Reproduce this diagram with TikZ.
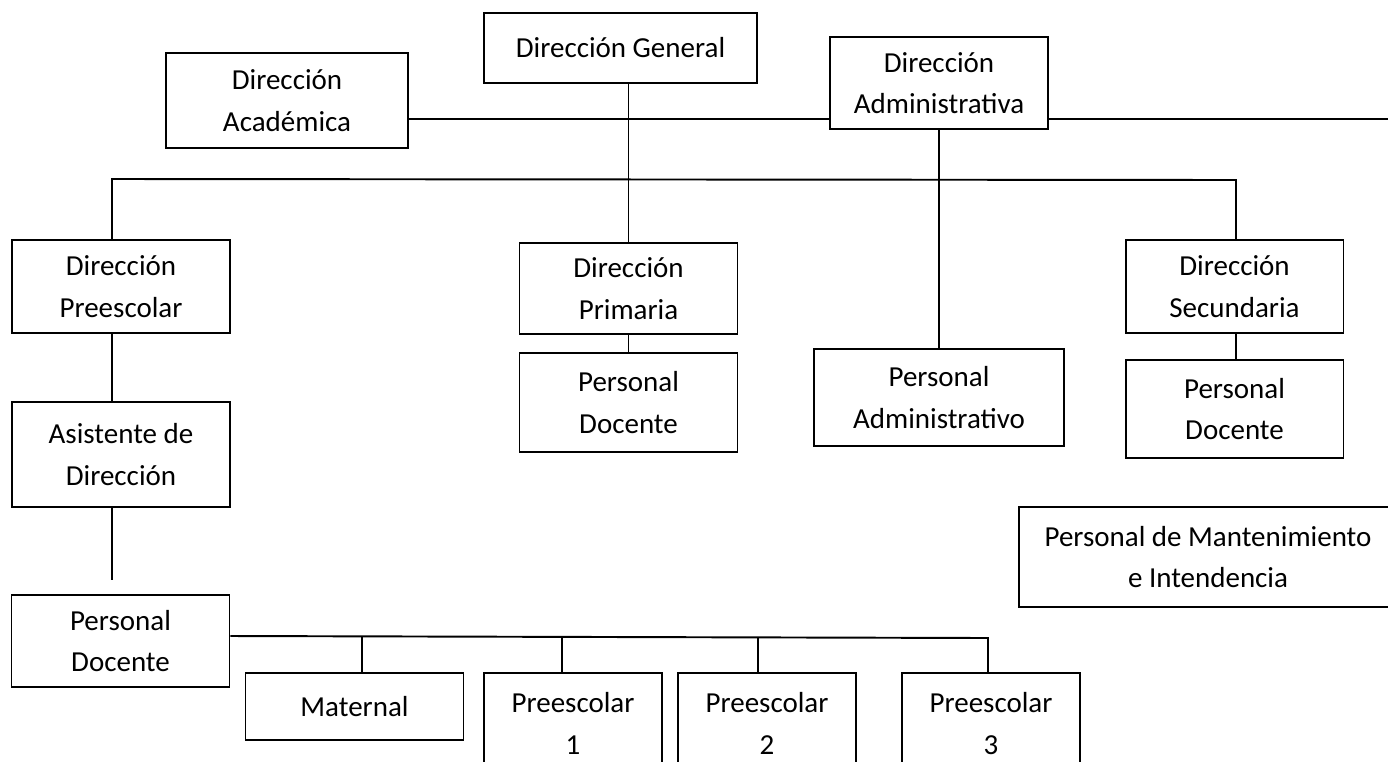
\documentclass[tikz,border=0pt]{standalone}
\usepackage{fontspec}
\setmainfont{Carlito}
\usetikzlibrary{arrows,shapes,calc,positioning}

\begin{document}
\begin{tikzpicture}[x=0.02cm, y=-0.02cm]
		\tikzstyle{every node}=[font=\fontsize{16.5}{23.5}\selectfont]
		\tikzstyle{caja}=[draw, line width=1.1pt, align=center, inner sep=0pt, minimum width=4.36cm, minimum height=1.86cm]
		\clip (0,0) rectangle (1388,761);
		% direccion
		\node [caja, minimum width=5.46cm, minimum height=1.4cm] (dg) at (620.5,48) {Dirección General};
		\node [caja, minimum width=4.84cm, minimum height=1.9cm] (acad) at (287,100.5) {Dirección\\Académica};
		\node [caja, minimum height=1.84cm] (adm) at (939,83) {Dirección\\Administrativa};
		% niveles
		\node [caja] (pre) at (121,286.5) {Dirección\\Preescolar};
		\node [caja, minimum height=1.82cm] (pri) at (628.5,288.5) {Dirección\\Primaria};
		\node [caja] (sec) at (1234.5,286.5) {Dirección\\Secundaria};
		\node [caja, minimum width=5cm, minimum height=1.94cm] (padm) at (939,397.5) {Personal\\Administrativo};
		\node [caja, minimum height=1.98cm] (pdpri) at (628.5,402.5) {Personal\\Docente};
		\node [caja, minimum height=1.96cm] (pdsec) at (1234.5,409) {Personal\\Docente};
		\node [caja, minimum width=7.56cm, minimum height=2cm] (mant) at (1208,557) {Personal de Mantenimiento\\e Intendencia};
		\node [caja, minimum height=2.1cm] (asis) at (121,454.5) {Asistente de\\Dirección};
		\node [caja, minimum height=1.84cm] (pdpre) at (120.5,641) {Personal\\Docente};
		% grupos
		\node [caja, minimum height=1.34cm] (mat) at (354.5,706.5) {Maternal};
		\node [caja, minimum width=3.56cm, minimum height=2.02cm] (p1) at (573,723.5) {Preescolar\\1};
		\node [caja, minimum width=3.56cm, minimum height=2.02cm] (p2) at (767,723.5) {Preescolar\\2};
		\node [caja, minimum width=3.56cm, minimum height=2.02cm] (p3) at (991,723.5) {Preescolar\\3};
		\coordinate (lnA) at (0,119);
		\coordinate (fin) at (1388,119);
		\coordinate (busI) at (112,179);
		\coordinate (busD) at (1236,180);
		\coordinate (gM) at (362,636);
		\coordinate (g1) at (562,637);
		\coordinate (g2) at (758,637);
		\coordinate (g3) at (988,638);
		\draw [line width=1.1pt] (acad.east |- lnA) -- (adm.west |- lnA);
		\draw [line width=1.1pt] (adm.east |- lnA) -- (fin);
		\draw [line width=1.1pt] (pri.north |- dg.south) -- (pri.north);
		\draw [line width=1.1pt] (busI |- pre.north) -- (busI) -- (busD) -- (busD |- sec.north);
		\draw [line width=1.1pt] (adm.south) -- (padm.north);
		\draw [line width=1.1pt] (busI |- pre.south) -- (busI |- asis.north);
		\draw [line width=1.1pt, shorten >=8] (busI |- asis.south) -- (busI |- pdpre.north);
		\draw [line width=1.1pt] (pri.south) -- (pdpri.north);
		\draw [line width=1.1pt] (busD |- sec.south) -- (busD |- pdsec.north);
		\draw [line width=1.1pt] (pdpre.east |- gM) -- (g3) -- (g3 |- p3.north);
		\foreach \g/\c in {mat/gM,p1/g1,p2/g2}
			\draw [line width=1.1pt] (\c) -- (\c |- \g.north);
		\end{tikzpicture}
\end{document}
